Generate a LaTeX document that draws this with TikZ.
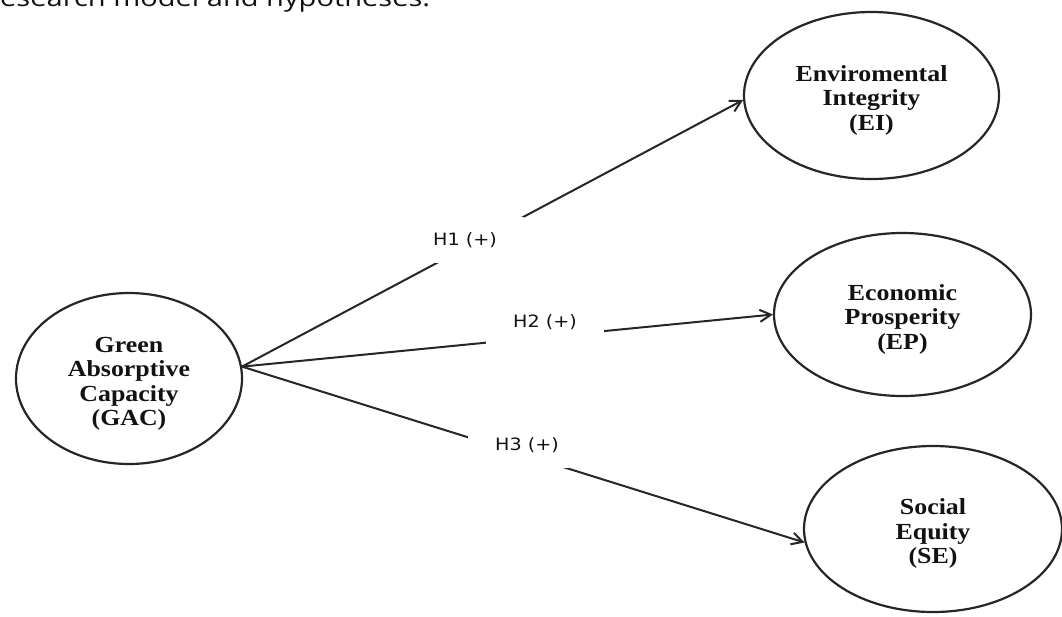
\documentclass[tikz,border=0pt]{standalone}
\usepackage{fontspec}
\setmainfont{Liberation Serif}
\newfontfamily\labelfont{DejaVu Sans}
\newfontfamily\titlefont{Open Sans}
\usetikzlibrary{shapes.geometric,arrows.meta}
\definecolor{linec}{HTML}{262626}
\definecolor{txt}{HTML}{121212}
\newcommand{\ctxt}[1]{\raisebox{-5.5pt}[\height][\depth]{\scalebox{1.125}[1]{\begin{tabular}{@{}c@{}}#1\end{tabular}}}}
\begin{document}
\begin{tikzpicture}[x=1pt,y=-1pt,
  construct/.style={ellipse, draw=linec, line width=2.2pt, inner sep=0pt, text=txt,
    font=\fontsize{23}{24.5}\selectfont\bfseries},
  hyp/.style={fill=white, inner sep=0pt, minimum width=118pt, minimum height=46pt,
    text=txt, font=\labelfont\fontsize{17}{20}\selectfont},
  conn/.style={draw=linec, line width=2pt,
    -{Straight Barb[length=11pt,width=12pt,line width=2pt]}}
]
\clip (0,0) rectangle (1062,616);
\fill[white] (0,0) rectangle (1062,616);

\node[anchor=base west, inner sep=0pt, text=txt, font=\titlefont\fontsize{24}{24}\selectfont]
  (title) at (0,6.5) {\resizebox{430pt}{\height}{esearch model and hypotheses.}};

\node[construct, minimum width=226pt, minimum height=171pt] (GAC) at (129,378.5)
  {\ctxt{Green\\Absorptive\\Capacity\\(GAC)}};
\node[construct, minimum width=255pt, minimum height=167pt] (EI) at (871.5,95.5)
  {\ctxt{Enviromental\\Integrity\\(EI)}};
\node[construct, minimum width=257pt, minimum height=163pt] (EP) at (902.5,314.5)
  {\ctxt{Economic\\Prosperity\\(EP)}};
\node[construct, minimum width=258pt, minimum height=166pt] (SE) at (933,529)
  {\ctxt{Social\\Equity\\(SE)}};

\draw[conn] (GAC.6) -- (EI.182);
\draw[conn] (GAC.6) -- (EP.180);
\draw[conn] (GAC.6) -- (SE.186);

\node[hyp] (h1) at (465,240) {\scalebox{1.125}[1]{H1 (+)}};
\node[hyp] (h2) at (545,322) {\scalebox{1.125}[1]{H2 (+)}};
\node[hyp] (h3) at (527,445) {\scalebox{1.125}[1]{H3 (+)}};
\end{tikzpicture}
\end{document}
